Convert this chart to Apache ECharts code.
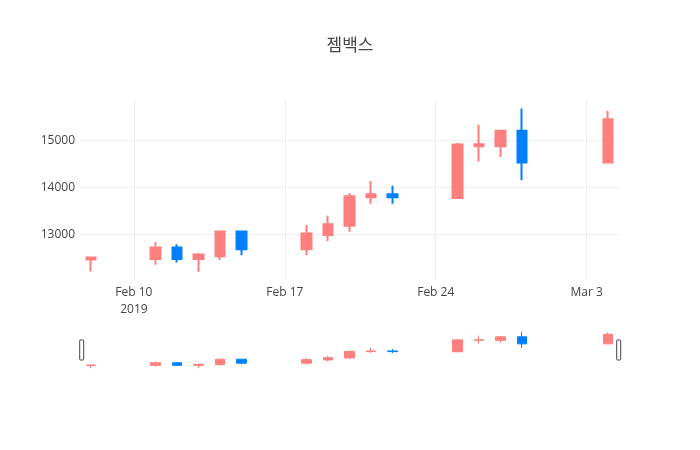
<!DOCTYPE html>
<html>
<head>
<meta charset="utf-8">
<script src="https://cdn.jsdelivr.net/npm/echarts@6/dist/echarts.min.js"></script>
<style>
  html, body { margin: 0; padding: 0; background: #fff; }
  #main { width: 700px; height: 450px; }
</style>
</head>
<body>
<div id="main"></div>
<script>
// 젬백스 daily candles, Feb-Mar 2019
var dates = ['2019-02-08', '2019-02-11', '2019-02-12', '2019-02-13', '2019-02-14', '2019-02-15',
             '2019-02-18', '2019-02-19', '2019-02-20', '2019-02-21', '2019-02-22',
             '2019-02-25', '2019-02-26', '2019-02-27', '2019-02-28', '2019-03-04'];
var opens  = [12460, 12470, 12715, 12470, 12530, 13060, 12680, 12980, 13180, 13790, 13855, 13775, 14880, 14880, 15210, 14535];
var closes = [12500, 12715, 12470, 12565, 13060, 12680, 13015, 13210, 13810, 13855, 13790, 14920, 14925, 15210, 14535, 15460];
var lows   = [12200, 12345, 12395, 12195, 12450, 12550, 12550, 12850, 13050, 13650, 13650, 13750, 14555, 14650, 14155, 14535];
var highs  = [12520, 12835, 12785, 12590, 13060, 13060, 13195, 13395, 13880, 14140, 14035, 14950, 15340, 15235, 15690, 15640];
var yTicks = [13000, 14000, 15000];

var MONTHS = ['Jan', 'Feb', 'Mar', 'Apr', 'May', 'Jun', 'Jul', 'Aug', 'Sep', 'Oct', 'Nov', 'Dec'];
var DAY = 86400000;
var base = Date.parse('2019-02-10');

// x as day offset from Feb 10 so weekly ticks land on Sundays
var candles = dates.map(function (d, i) {
    return [(Date.parse(d) - base) / DAY, opens[i], closes[i], lows[i], highs[i]];
});

var UP = '#ff7f7f', DOWN = '#007fff';
var font = "'Open Sans', 'Noto Sans CJK KR', sans-serif";

function dateLabel(v) {
    var d = new Date(base + v * DAY);
    var s = MONTHS[d.getUTCMonth()] + ' ' + d.getUTCDate();
    if (v === 0) s += '\n' + d.getUTCFullYear();
    return s;
}

var myChart = echarts.init(document.getElementById('main'));
var option = {
    animation: false,
    backgroundColor: '#fff',
    title: {
        text: '젬백스',
        left: 'center',
        top: 33,
        textStyle: { fontFamily: font, fontSize: 17, fontWeight: 'normal', color: '#444' }
    },
    grid: [
        { left: 80, right: 81, top: 100, height: 180 },
        { left: 80, right: 81, top: 330, height: 40 }
    ],
    xAxis: [{
        type: 'value', gridIndex: 0,
        min: -2.5, max: 22.5, minInterval: 7, maxInterval: 7,
        axisLine: { show: false }, axisTick: { show: false },
        axisLabel: {
            formatter: dateLabel, showMinLabel: false, showMaxLabel: false,
            fontFamily: font, fontSize: 12, color: '#444', margin: 4, lineHeight: 17
        },
        splitLine: { show: true, showMinLine: false, showMaxLine: false, lineStyle: { color: '#eee', width: 1 } }
    }, {
        type: 'value', gridIndex: 1,
        min: -2.5, max: 22.5, show: false
    }],
    yAxis: [{
        type: 'value', gridIndex: 0,
        min: 12020, max: 15870, minInterval: 1000, maxInterval: 1000,
        axisLine: { show: false }, axisTick: { show: false },
        axisLabel: {
            showMinLabel: false, showMaxLabel: false,
            formatter: function (v) { return yTicks.indexOf(v) >= 0 ? String(v) : ''; },
            fontFamily: font, fontSize: 12, color: '#444', margin: 5
        },
        splitLine: { show: true, showMinLine: false, showMaxLine: false, lineStyle: { color: '#eee', width: 1 } }
    }, {
        type: 'value', gridIndex: 1,
        min: 12020, max: 15870, show: false
    }],
    dataZoom: [{
        type: 'slider', xAxisIndex: [1], filterMode: 'none',
        left: 80, right: 81, top: 330, height: 40,
        start: 0, end: 100,
        showDataShadow: false, showDetail: false, brushSelect: false,
        backgroundColor: 'rgba(0,0,0,0)', borderColor: 'rgba(0,0,0,0)', fillerColor: 'rgba(0,0,0,0)',
        moveHandleSize: 0,
        handleIcon: 'path://M0.8,0 L3.2,0 Q4,0 4,0.8 L4,19.2 Q4,20 3.2,20 L0.8,20 Q0,20 0,19.2 L0,0.8 Q0,0 0.8,0 Z',
        handleSize: 20,
        handleStyle: { color: '#fff', borderColor: '#444', borderWidth: 1 },
        emphasis: { handleStyle: { color: '#fff', borderColor: '#444', borderWidth: 1 } }
    }],
    series: [{
        name: '젬백스', type: 'candlestick',
        xAxisIndex: 0, yAxisIndex: 0,
        data: candles,
        encode: { x: 0, y: [1, 2, 3, 4] },
        barWidth: 10,
        itemStyle: { color: UP, color0: DOWN, borderColor: UP, borderColor0: DOWN, borderWidth: 2 }
    }, {
        name: 'slider', type: 'candlestick',
        xAxisIndex: 1, yAxisIndex: 1,
        data: candles,
        encode: { x: 0, y: [1, 2, 3, 4] },
        barWidth: 10, silent: true,
        itemStyle: { color: UP, color0: DOWN, borderColor: UP, borderColor0: DOWN, borderWidth: 1 }
    }]
};
myChart.setOption(option);
</script>
</body>
</html>
